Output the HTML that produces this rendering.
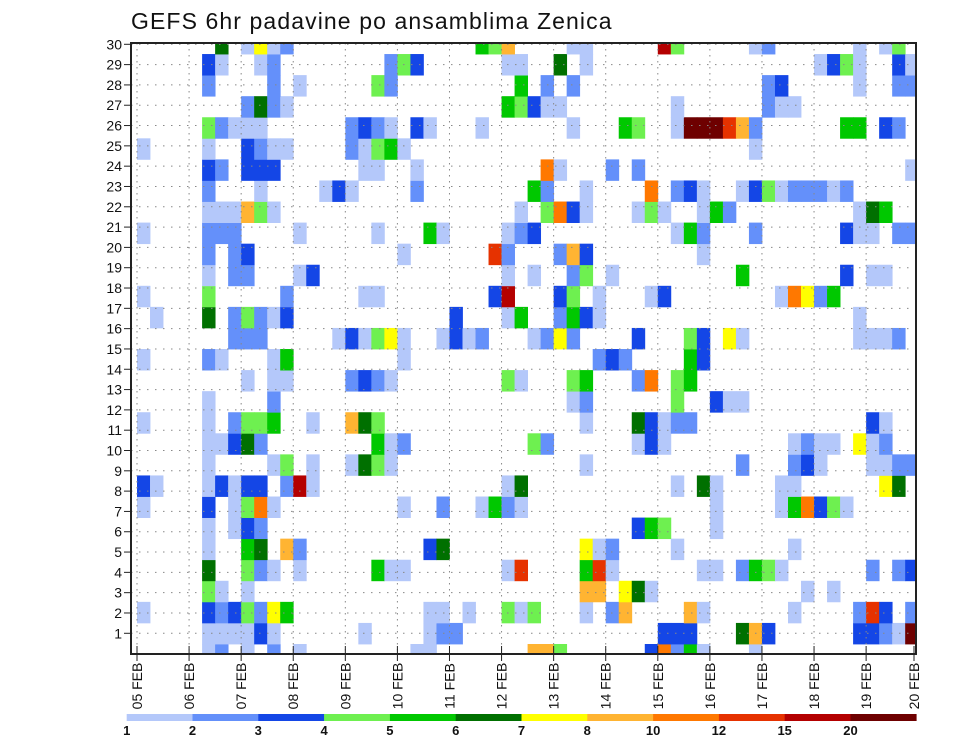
<!DOCTYPE html>
<html><head><meta charset="utf-8">
<style>
html,body{margin:0;padding:0;background:#fff;}
svg{display:block;font-family:"Liberation Sans",sans-serif;}
</style></head>
<body>
<svg id="chart" width="960" height="742" viewBox="0 0 960 742" xmlns="http://www.w3.org/2000/svg">
<defs><clipPath id="pc"><rect x="131" y="43" width="785" height="611"/></clipPath></defs>
<text x="131" y="29" font-size="23" letter-spacing="1.1" fill="#111">GEFS 6hr padavine po ansamblima Zenica</text>
<g id="cells" clip-path="url(#pc)"></g>
<g id="grid"></g>
<rect x="131" y="43" width="785" height="611" fill="none" stroke="#222" stroke-width="2"/>
<g id="yaxis"></g>
<g id="xaxis"></g>
<g id="legend"></g>
</svg>
<script>
const dateLabels = ["05 FEB","06 FEB","07 FEB","08 FEB","09 FEB","10 FEB","11 FEB","12 FEB","13 FEB","14 FEB","15 FEB","16 FEB","17 FEB","18 FEB","19 FEB","20 FEB"];
const memberLabels = [1,2,3,4,5,6,7,8,9,10,11,12,13,14,15,16,17,18,19,20,21,22,23,24,25,26,27,28,29,30];
const legendLabels = ["1","2","3","4","5","6","7","8","10","12","15","20"];
const levelColors = ["#b4c8fa","#6490fa","#1446e6","#6ef050","#00c800","#007000","#ffff00","#ffb432","#ff7800","#e63200","#b40000","#6e0000"];
// row data: index = member row (0 = bottom), entries "timestep:level" (level a=10,b=11,c=12)
const rowData = [
"5:1 6:2 8:1 10:2 12:1 21:1 22:1 30:8 31:8 32:4 39:3 40:9 41:2 42:5 43:1 47:1",
"5:1 6:1 7:1 8:1 9:3 10:1 17:1 22:1 23:2 24:2 40:3 41:3 42:3 46:6 47:8 48:3 55:3 56:3 57:2 58:1 59:c",
"0:1 5:3 6:2 7:3 8:4 9:2 10:7 11:5 22:1 23:1 25:1 28:4 29:1 30:4 34:1 36:2 37:8 42:8 43:1 50:1 55:2 56:a 57:3 59:2",
"5:4 6:1 8:1 34:8 35:8 37:7 38:6 39:1 51:1 53:1",
"5:6 8:4 9:2 10:1 12:1 18:5 19:1 20:1 28:1 29:a 34:5 35:a 36:1 43:1 44:1 46:2 47:5 48:4 49:1 56:2 58:2 59:3",
"5:1 8:5 9:6 11:8 12:2 22:3 23:6 34:7 35:1 36:2 41:1 50:1",
"5:1 7:1 8:3 9:2 38:3 39:5 40:4 44:1",
"0:1 5:3 7:1 8:4 9:9 10:1 20:1 23:2 26:1 27:5 28:2 29:1 44:1 49:1 50:5 51:9 52:3 53:4 54:1",
"0:3 1:1 5:1 6:3 7:1 8:3 9:3 11:2 12:b 13:1 28:1 29:6 41:1 43:6 44:1 49:1 50:1 57:7 58:6",
"5:1 10:1 11:4 13:1 16:1 17:6 18:4 19:1 34:1 46:2 50:2 51:3 52:1 56:1 57:1 58:2 59:2",
"5:1 6:1 7:3 8:6 9:2 18:5 19:1 20:2 30:4 31:2 38:1 39:3 40:1 50:1 51:2 52:1 53:1 55:7 56:1 57:2",
"0:1 5:1 7:2 8:4 9:4 10:5 13:1 16:8 17:6 18:4 34:1 38:6 39:3 40:1 41:2 42:2 56:3 57:1",
"5:1 10:2 33:1 34:2 41:4 44:3 45:1 46:1",
"8:1 10:1 11:1 16:2 17:3 18:2 19:1 28:4 29:1 33:4 34:5 38:2 39:9 41:4 42:5",
"0:1 5:2 6:1 10:1 11:5 20:1 35:2 36:3 37:2 42:5 43:3",
"7:2 8:2 9:2 15:1 16:3 17:1 18:4 19:7 20:1 23:1 24:3 25:1 26:2 30:1 31:2 32:7 33:2 38:3 42:4 43:3 45:7 46:1 55:1 56:1 57:1 58:2",
"1:1 5:6 7:2 8:4 9:2 10:1 11:3 24:3 28:1 29:5 32:2 33:5 34:3 35:1 55:1",
"0:1 5:4 11:2 17:1 18:1 27:3 28:b 32:3 33:4 35:1 39:1 40:3 49:1 50:9 51:7 52:2 53:5",
"5:1 7:2 8:2 12:1 13:3 28:1 30:1 33:2 34:4 36:1 46:5 54:3 56:1 57:1",
"5:2 7:2 8:3 20:1 27:a 28:2 32:2 33:8 34:3 43:1",
"0:1 5:2 6:2 7:2 12:1 18:1 22:5 23:1 28:1 29:2 30:3 41:1 42:5 43:2 47:2 54:3 55:1 56:1 58:2 59:2",
"5:1 6:1 7:1 8:8 9:4 10:1 29:1 31:4 32:9 33:3 34:1 38:1 39:4 40:1 43:1 44:5 45:2 55:1 56:6 57:5",
"5:2 9:1 14:1 15:3 16:1 21:2 30:5 31:2 34:1 39:9 41:2 42:3 43:1 46:1 47:3 48:4 49:1 50:2 51:2 52:2 53:1 54:2",
"5:3 6:2 8:3 9:3 10:3 17:1 18:1 21:1 31:9 32:1 36:2 38:2 59:1",
"0:1 5:1 8:3 9:2 10:1 11:1 16:2 17:1 18:4 19:5 20:1 47:1",
"5:4 6:2 7:1 8:1 9:1 16:2 17:3 18:2 19:1 21:3 22:1 26:1 33:1 37:5 38:4 41:1 42:c 43:c 44:c 45:a 46:8 47:2 54:5 55:5 57:3 58:2",
"8:2 9:6 10:2 11:1 28:5 29:4 30:3 31:1 32:1 41:1 48:2 49:1 50:1",
"5:2 10:2 12:1 18:4 19:2 29:5 31:2 33:2 48:2 49:3 55:1 58:2 59:2",
"5:3 6:1 9:1 10:2 19:2 20:4 21:3 28:1 29:1 32:6 34:1 52:1 53:3 54:4 55:1 58:3 59:1",
"6:6 8:1 9:7 10:1 11:2 26:5 27:4 28:8 33:1 34:1 40:b 41:4 47:1 48:2 55:1 57:1 58:4"
];
const NS="http://www.w3.org/2000/svg";
const X0=137, STEP=13.02, DAY=52.08;
const xStep=t=>X0+STEP*t;
const cellTop=j=>644-21.07*j;
const CELLH=21.07;
const labelY=m=>653.6-20.31*m;
function mk(tag,attrs,parent){const e=document.createElementNS(NS,tag);for(const k in attrs)e.setAttribute(k,attrs[k]);parent.appendChild(e);return e;}
const cellsG=document.getElementById('cells');
rowData.forEach((s,j)=>{
  s.split(' ').forEach(p=>{
    const [t,c]=p.split(':');
    const lvl=parseInt(c,16);
    const r=mk('rect',{x:xStep(+t).toFixed(2),y:cellTop(j).toFixed(2),width:(STEP+0.4).toFixed(2),height:(CELLH+0.4).toFixed(2),fill:levelColors[lvl-1]},cellsG);
    
    
  });
});
const gridG=document.getElementById('grid');
memberLabels.forEach(m=>{
  const y=labelY(m);
  const l=mk('line',{x1:131,x2:916,y1:y,y2:y,stroke:'#888','stroke-width':1,'stroke-dasharray':'1.5 6.5'},gridG);
  
  
});
dateLabels.forEach((d,i)=>{
  const x=X0+DAY*i;
  if(x>916)return;
  const l=mk('line',{x1:x,x2:x,y1:43,y2:654,stroke:'#888','stroke-width':1,'stroke-dasharray':'1.5 4.5'},gridG);
  
  
});
const yG=document.getElementById('yaxis');
memberLabels.forEach(m=>{
  const y=labelY(m);
  const tk=mk('line',{x1:124,x2:131,y1:y,y2:y,stroke:'#222','stroke-width':1},yG);
  
  
  const t=mk('text',{x:122,y:y+5,'font-size':14,'text-anchor':'end',fill:'#111'},yG);
  t.textContent=m;
  
  
});
const xG=document.getElementById('xaxis');
dateLabels.forEach((d,i)=>{
  const x=Math.min(X0+DAY*i,914);
  const tk=mk('line',{x1:x,x2:x,y1:646,y2:661,stroke:'#222','stroke-width':1},xG);
  
  
  const t=mk('text',{x:0,y:0,'font-size':14,'text-anchor':'middle',fill:'#111',transform:`translate(${x+5},${686}) rotate(-90)`},xG);
  t.textContent=d;
  
  
});
const lg=document.getElementById('legend');
const LX=126.7, LW=65.8;
levelColors.forEach((c,i)=>{
  const r=mk('rect',{x:LX+LW*i,y:714,width:LW+0.3,height:7,fill:c},lg);
  
  
});
legendLabels.forEach((s,i)=>{
  const t=mk('text',{x:LX+LW*i,y:735,'font-size':13,'font-weight':'bold','text-anchor':'middle',fill:'#111'},lg);
  t.textContent=s;
  
  
});
</script>
</body></html>
